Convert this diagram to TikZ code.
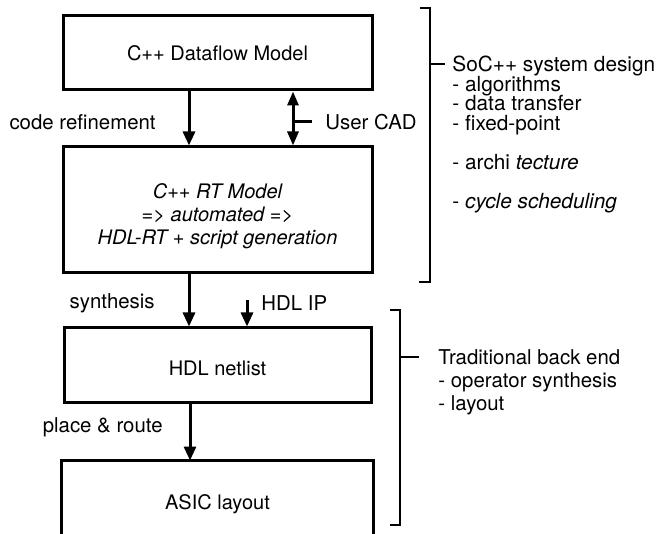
\documentclass[tikz,border=0pt]{standalone}
\usepackage{fontspec}
\setmainfont{TeX Gyre Heros}
\usepackage{tikz}
\usetikzlibrary{shapes,arrows.meta}
\tikzstyle{block} = [rectangle, draw, line width=1.5pt, text centered, minimum width=154.5pt, inner sep=0pt]
\tikzstyle{line} = [draw, line width=1.5pt, -{Triangle[width=6pt,length=7pt]}]
\tikzstyle{both} = [draw, line width=1.5pt, {Triangle[width=5.5pt,length=7pt]}-{Triangle[width=5.5pt,length=7pt]}]
\tikzstyle{brace} = [draw, line width=1.4pt]
\tikzstyle{lbl} = [inner sep=0pt, font=\fontsize{10.2}{11.5}\selectfont]
\newcommand\tightlines{\fontsize{10.4}{9.75}\selectfont\lineskiplimit=-6pt\relax}

\begin{document}
\begin{tikzpicture}[x=0.5pt,y=-0.5pt,node distance=78.5pt,font=\fontsize{10}{11.5}\selectfont]
      \useasboundingbox (0,0) rectangle (659,534);
      \node [block, minimum height=37pt] (dfm) at (217.5,53) {C++ Dataflow Model};
      \node [block, below of=dfm, minimum height=63pt, align=center] (rtm)
        {\rule{0pt}{13.5pt}\itshape C++ RT Model\\ \itshape => automated =>\\ \itshape HDL-RT + script generation};
      \node [block, below of=rtm, yshift=0.75pt, minimum height=37.5pt, minimum width=153.5pt] (netlist) {\rule{0pt}{10pt}HDL netlist};
      \node [block, draw=none, below of=netlist, yshift=12pt, minimum height=36.5pt] (asic) {\rule{0pt}{13pt}ASIC layout};
      \draw [line width=1.5pt] (asic.south west) -- (asic.north west) -- (asic.north east) -- (asic.south east);
      \draw [gray!70, densely dotted, line width=0.6pt] (asic.south west) -- (asic.south east);

      % labels beside the arrows
      \node [lbl, anchor=east] (refine) at (156,122) {code refinement};
      \node [lbl, anchor=west] (usercad) at (325,122) {User CAD};
      \node [lbl, anchor=east] (synth) at (155,303) {synthesis};
      \node [lbl, anchor=west] (hdliplbl) at (261,303) {HDL IP};
      \node [lbl, anchor=east] (pr) at (163,427) {place \& route};
      \coordinate (hdlip) at (247,300);
      \coordinate (cad) at (312,122);
      \coordinate (cadx) at ([xshift=37.75pt]dfm.south);

      \path [line] ([xshift=-14.25pt]dfm.south) -- ([xshift=-14.25pt]rtm.north);
      \path [both] (cadx) -- (cadx |- rtm.north);
      \draw [line width=1.5pt] (cad) -- (cad -| cadx);
      \path [line] ([xshift=-14.25pt]rtm.south) -- ([xshift=-14.25pt]netlist.north);
      \path [line] (hdlip) -- (hdlip |- netlist.north);
      \path [line] ([xshift=-13.75pt]netlist.south) -- ([xshift=-13.75pt]asic.north);

      % brackets on the right
      \draw [brace] (420,8) -- (430,8) -- (430,282) -- (419,282);
      \draw [brace] (430,64) -- (445,64);
      \node [lbl, anchor=north west, align=left, font=\tightlines] (soc) at (452,56)
        {SoC++ system design\\- algorithms\\- data transfer\\- fixed-point\\[9.75pt]- archi \textit{tecture}\\[9.75pt]- \textit{cycle scheduling}};
      \draw [brace] (390,310) -- (400,310) -- (400,525) -- (390,525);
      \draw [brace] (400,357) -- (419,357);
      \node [lbl, anchor=north west, align=left] (backend) at (438,349)
        {Traditional back end\\- operator synthesis\\- layout};
\end{tikzpicture}
\end{document}
